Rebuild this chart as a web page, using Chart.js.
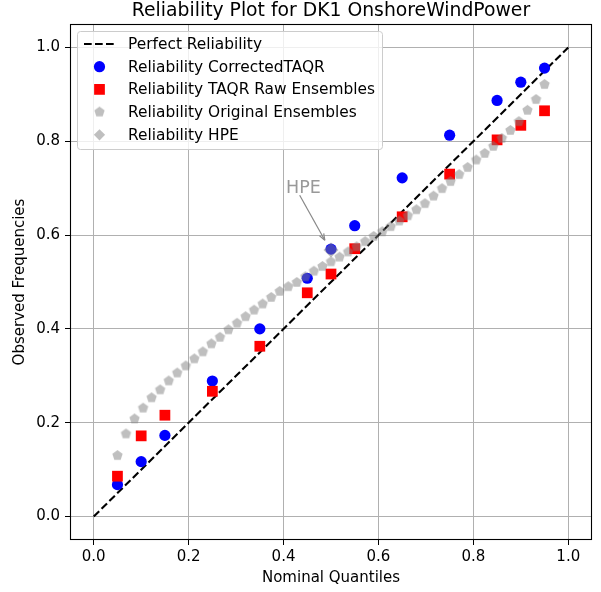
<!DOCTYPE html>
<html>
<head>
<meta charset="utf-8">
<script src="https://cdn.jsdelivr.net/npm/chart.js"></script>
<style>
  body { margin: 0; background: #fff; }
  #wrap { width: 601px; height: 592px; }
</style>
</head>
<body>
<div id="wrap"><canvas id="relChart" width="601" height="592"></canvas></div>
<script>
// nominal quantiles of the two TAQR models
var quantiles = [0.05, 0.1, 0.15, 0.25, 0.35, 0.45, 0.5, 0.55, 0.65, 0.75, 0.85, 0.9, 0.95]
var correctedTAQR = [0.068, 0.117, 0.173, 0.289, 0.400, 0.508, 0.570, 0.620, 0.722, 0.813, 0.887, 0.926, 0.956]
var taqrRaw = [0.086, 0.172, 0.216, 0.267, 0.363, 0.477, 0.517, 0.571, 0.639, 0.730, 0.803, 0.834, 0.865]

// original ensembles (51 members)
var ensQuantiles = [0.050, 0.068, 0.086, 0.104, 0.122, 0.140, 0.158, 0.176, 0.194, 0.212,
    0.230, 0.248, 0.266, 0.284, 0.302, 0.320, 0.338, 0.356, 0.374, 0.392,
    0.410, 0.428, 0.446, 0.464, 0.482, 0.500, 0.518, 0.536, 0.554, 0.572,
    0.590, 0.608, 0.626, 0.644, 0.662, 0.680, 0.698, 0.716, 0.734, 0.752,
    0.770, 0.788, 0.806, 0.824, 0.842, 0.860, 0.878, 0.896, 0.914, 0.932, 0.950]
var originalEns = [0.130, 0.176, 0.208, 0.231, 0.253, 0.270, 0.289, 0.306, 0.321, 0.336,
    0.351, 0.368, 0.382, 0.398, 0.412, 0.426, 0.440, 0.453, 0.467, 0.480,
    0.490, 0.499, 0.511, 0.523, 0.533, 0.543, 0.553, 0.564, 0.575, 0.586,
    0.597, 0.607, 0.618, 0.630, 0.641, 0.654, 0.667, 0.683, 0.699, 0.714,
    0.729, 0.744, 0.760, 0.774, 0.789, 0.806, 0.823, 0.842, 0.866, 0.889, 0.921]

var hpeQuantile = [0.5]
var hpeValue = [0.568]

var perfectX = [0, 1]
var perfectY = [0, 1]

var tickValues = [0, 0.2, 0.4, 0.6, 0.8, 1.0]

var FONT = 'DejaVu Sans'

function pts(xs, ys) {
    return xs.map(function(x, i) { return {x: x, y: ys[i]} })
}

// pentagon marker (matplotlib 'p')
function makePentagon(r, color) {
    var c = document.createElement('canvas')
    var s = Math.ceil(r * 2 + 2)
    c.width = s
    c.height = s
    var g = c.getContext('2d')
    g.beginPath()
    for (var k = 0; k < 5; k++) {
        var a = -Math.PI / 2 + k * 2 * Math.PI / 5
        var px = s / 2 + r * Math.cos(a)
        var py = s / 2 + r * Math.sin(a)
        if (k == 0) g.moveTo(px, py); else g.lineTo(px, py)
    }
    g.closePath()
    g.fillStyle = color
    g.fill()
    return c
}
var grayA = 'rgba(128,128,128,0.5)'
var pentagon = makePentagon(5.4, grayA)

// frame around plot area (all four spines) + title centred over the axes
var framePlugin = {
    id: 'frame',
    afterDatasetsDraw: function(chart) {
        var a = chart.chartArea, ctx = chart.ctx
        ctx.save()
        ctx.strokeStyle = '#000'
        ctx.lineWidth = 1.1
        ctx.strokeRect(a.left + 0.5, a.top + 0.5, a.right - a.left - 1, a.bottom - a.top - 1)
        ctx.fillStyle = '#000'
        ctx.font = '18.8px "' + FONT + '"'
        ctx.textAlign = 'center'
        ctx.textBaseline = 'middle'
        ctx.fillText('Reliability Plot for DK1 OnshoreWindPower', (a.left + a.right) / 2, 11)
        ctx.restore()
    }
}

// HPE text + arrow
var annotPlugin = {
    id: 'hpeNote',
    afterDatasetsDraw: function(chart) {
        var xs = chart.scales.x, ys = chart.scales.y, ctx = chart.ctx
        var tx = xs.getPixelForValue(0.442), ty = ys.getPixelForValue(0.700)
        var x0 = xs.getPixelForValue(0.434), y0 = ys.getPixelForValue(0.685)
        var x1 = xs.getPixelForValue(0.487), y1 = ys.getPixelForValue(0.589)
        ctx.save()
        ctx.fillStyle = '#999999'
        ctx.font = '17.5px "' + FONT + '"'
        ctx.textAlign = 'center'
        ctx.textBaseline = 'middle'
        ctx.fillText('HPE', tx, ty)
        ctx.strokeStyle = '#888888'
        ctx.lineWidth = 1.2
        ctx.beginPath()
        ctx.moveTo(x0, y0)
        ctx.lineTo(x1, y1)
        ctx.stroke()
        var ang = Math.atan2(y1 - y0, x1 - x0)
        ctx.beginPath()
        ctx.moveTo(x1, y1)
        ctx.lineTo(x1 - 7 * Math.cos(ang - 0.35), y1 - 7 * Math.sin(ang - 0.35))
        ctx.moveTo(x1, y1)
        ctx.lineTo(x1 - 7 * Math.cos(ang + 0.35), y1 - 7 * Math.sin(ang + 0.35))
        ctx.stroke()
        ctx.restore()
    }
}

// matplotlib-like legend inside the axes
var legendPlugin = {
    id: 'mplLegend',
    afterDraw: function(chart) {
        var ctx = chart.ctx
        var bx = 77.5, by = 31.5, bw = 305, bh = 118
        ctx.save()
        ctx.beginPath()
        ctx.roundRect(bx, by, bw, bh, 3)
        ctx.fillStyle = 'rgba(255,255,255,0.8)'
        ctx.fill()
        ctx.strokeStyle = '#cccccc'
        ctx.lineWidth = 1
        ctx.stroke()
        ctx.font = '15.4px "' + FONT + '"'
        ctx.textBaseline = 'middle'
        ctx.textAlign = 'left'
        chart.data.datasets.forEach(function(ds, i) {
            var cy = 44 + i * 22.7
            var cx = 99.5
            if (ds.showLine) {
                ctx.strokeStyle = ds.borderColor
                ctx.lineWidth = ds.borderWidth
                ctx.setLineDash(ds.borderDash)
                ctx.beginPath()
                ctx.moveTo(84, cy)
                ctx.lineTo(115, cy)
                ctx.stroke()
                ctx.setLineDash([])
            } else if (ds.pointStyle === pentagon) {
                ctx.drawImage(pentagon, cx - pentagon.width / 2, cy - pentagon.height / 2)
            } else {
                ctx.fillStyle = ds.backgroundColor
                ctx.beginPath()
                if (ds.pointStyle === 'circle') {
                    ctx.arc(cx, cy, ds.pointRadius, 0, Math.PI * 2)
                } else if (ds.pointStyle === 'rect') {
                    var h = ds.pointRadius * Math.SQRT1_2
                    ctx.rect(cx - h, cy - h, 2 * h, 2 * h)
                } else {
                    var r = 5.6
                    ctx.moveTo(cx, cy - r); ctx.lineTo(cx + r, cy)
                    ctx.lineTo(cx, cy + r); ctx.lineTo(cx - r, cy)
                    ctx.closePath()
                }
                ctx.fill()
            }
            ctx.fillStyle = '#000'
            ctx.fillText(ds.label, 128, cy + 1)
        })
        ctx.restore()
    }
}

var ctx = document.getElementById('relChart').getContext('2d')
var relChart = new Chart(ctx, {
    type: 'scatter',
    data: {
        datasets: [{
            label: 'Perfect Reliability',
            data: pts(perfectX, perfectY),
            showLine: true,
            borderColor: '#000',
            backgroundColor: '#000',
            borderWidth: 2.1,
            borderDash: [7.7, 3.3],
            pointRadius: 0,
            order: 5
        }, {
            label: 'Reliability CorrectedTAQR',
            data: pts(quantiles, correctedTAQR),
            pointStyle: 'circle',
            pointRadius: 5.6,
            backgroundColor: '#0000ff',
            borderWidth: 0,
            order: 4
        }, {
            label: 'Reliability TAQR Raw Ensembles',
            data: pts(quantiles, taqrRaw),
            pointStyle: 'rect',
            pointRadius: 7.6,
            backgroundColor: '#ff0000',
            borderWidth: 0,
            order: 3
        }, {
            label: 'Reliability Original Ensembles',
            data: pts(ensQuantiles, originalEns),
            pointStyle: pentagon,
            pointRadius: 5,
            backgroundColor: grayA,
            borderWidth: 0,
            order: 2
        }, {
            label: 'Reliability HPE',
            data: pts(hpeQuantile, hpeValue),
            pointStyle: 'rectRot',
            pointRadius: 7.5,
            backgroundColor: grayA,
            borderWidth: 0,
            order: 1
        }]
    },
    options: {
        responsive: false,
        animation: false,
        events: [],
        layout: { padding: { left: 0, right: 9, top: 24, bottom: 0 } },
        plugins: {
            legend: { display: false },
            tooltip: { enabled: false },
            title: { display: false }
        },
        scales: {
            x: {
                type: 'linear',
                min: -0.05,
                max: 1.05,
                afterFit: function(s) { s.height = 52 },
                afterBuildTicks: function(s) { s.ticks = tickValues.map(function(v) { return {value: v} }) },
                ticks: {
                    color: '#000',
                    padding: 3,
                    font: { family: FONT, size: 15 },
                    callback: function(v) { return Number(v).toFixed(1) }
                },
                grid: { color: '#b0b0b0', lineWidth: 1, tickColor: '#000', tickLength: 5 },
                border: { display: false },
                title: {
                    display: true,
                    text: 'Nominal Quantiles',
                    color: '#000',
                    font: { family: FONT, size: 15 },
                    padding: { top: 0, bottom: 5 }
                }
            },
            y: {
                type: 'linear',
                min: -0.05,
                max: 1.05,
                afterFit: function(s) { s.width = 70 },
                afterBuildTicks: function(s) { s.ticks = tickValues.map(function(v) { return {value: v} }) },
                ticks: {
                    color: '#000',
                    padding: 5,
                    font: { family: FONT, size: 15 },
                    callback: function(v) { return Number(v).toFixed(1) }
                },
                grid: { color: '#b0b0b0', lineWidth: 1, tickColor: '#000', tickLength: 5 },
                border: { display: false },
                title: {
                    display: true,
                    text: 'Observed Frequencies',
                    color: '#000',
                    font: { family: FONT, size: 15 },
                    padding: { top: 11, bottom: 0 }
                }
            }
        }
    },
    plugins: [framePlugin, annotPlugin, legendPlugin]
})
</script>
</body>
</html>
